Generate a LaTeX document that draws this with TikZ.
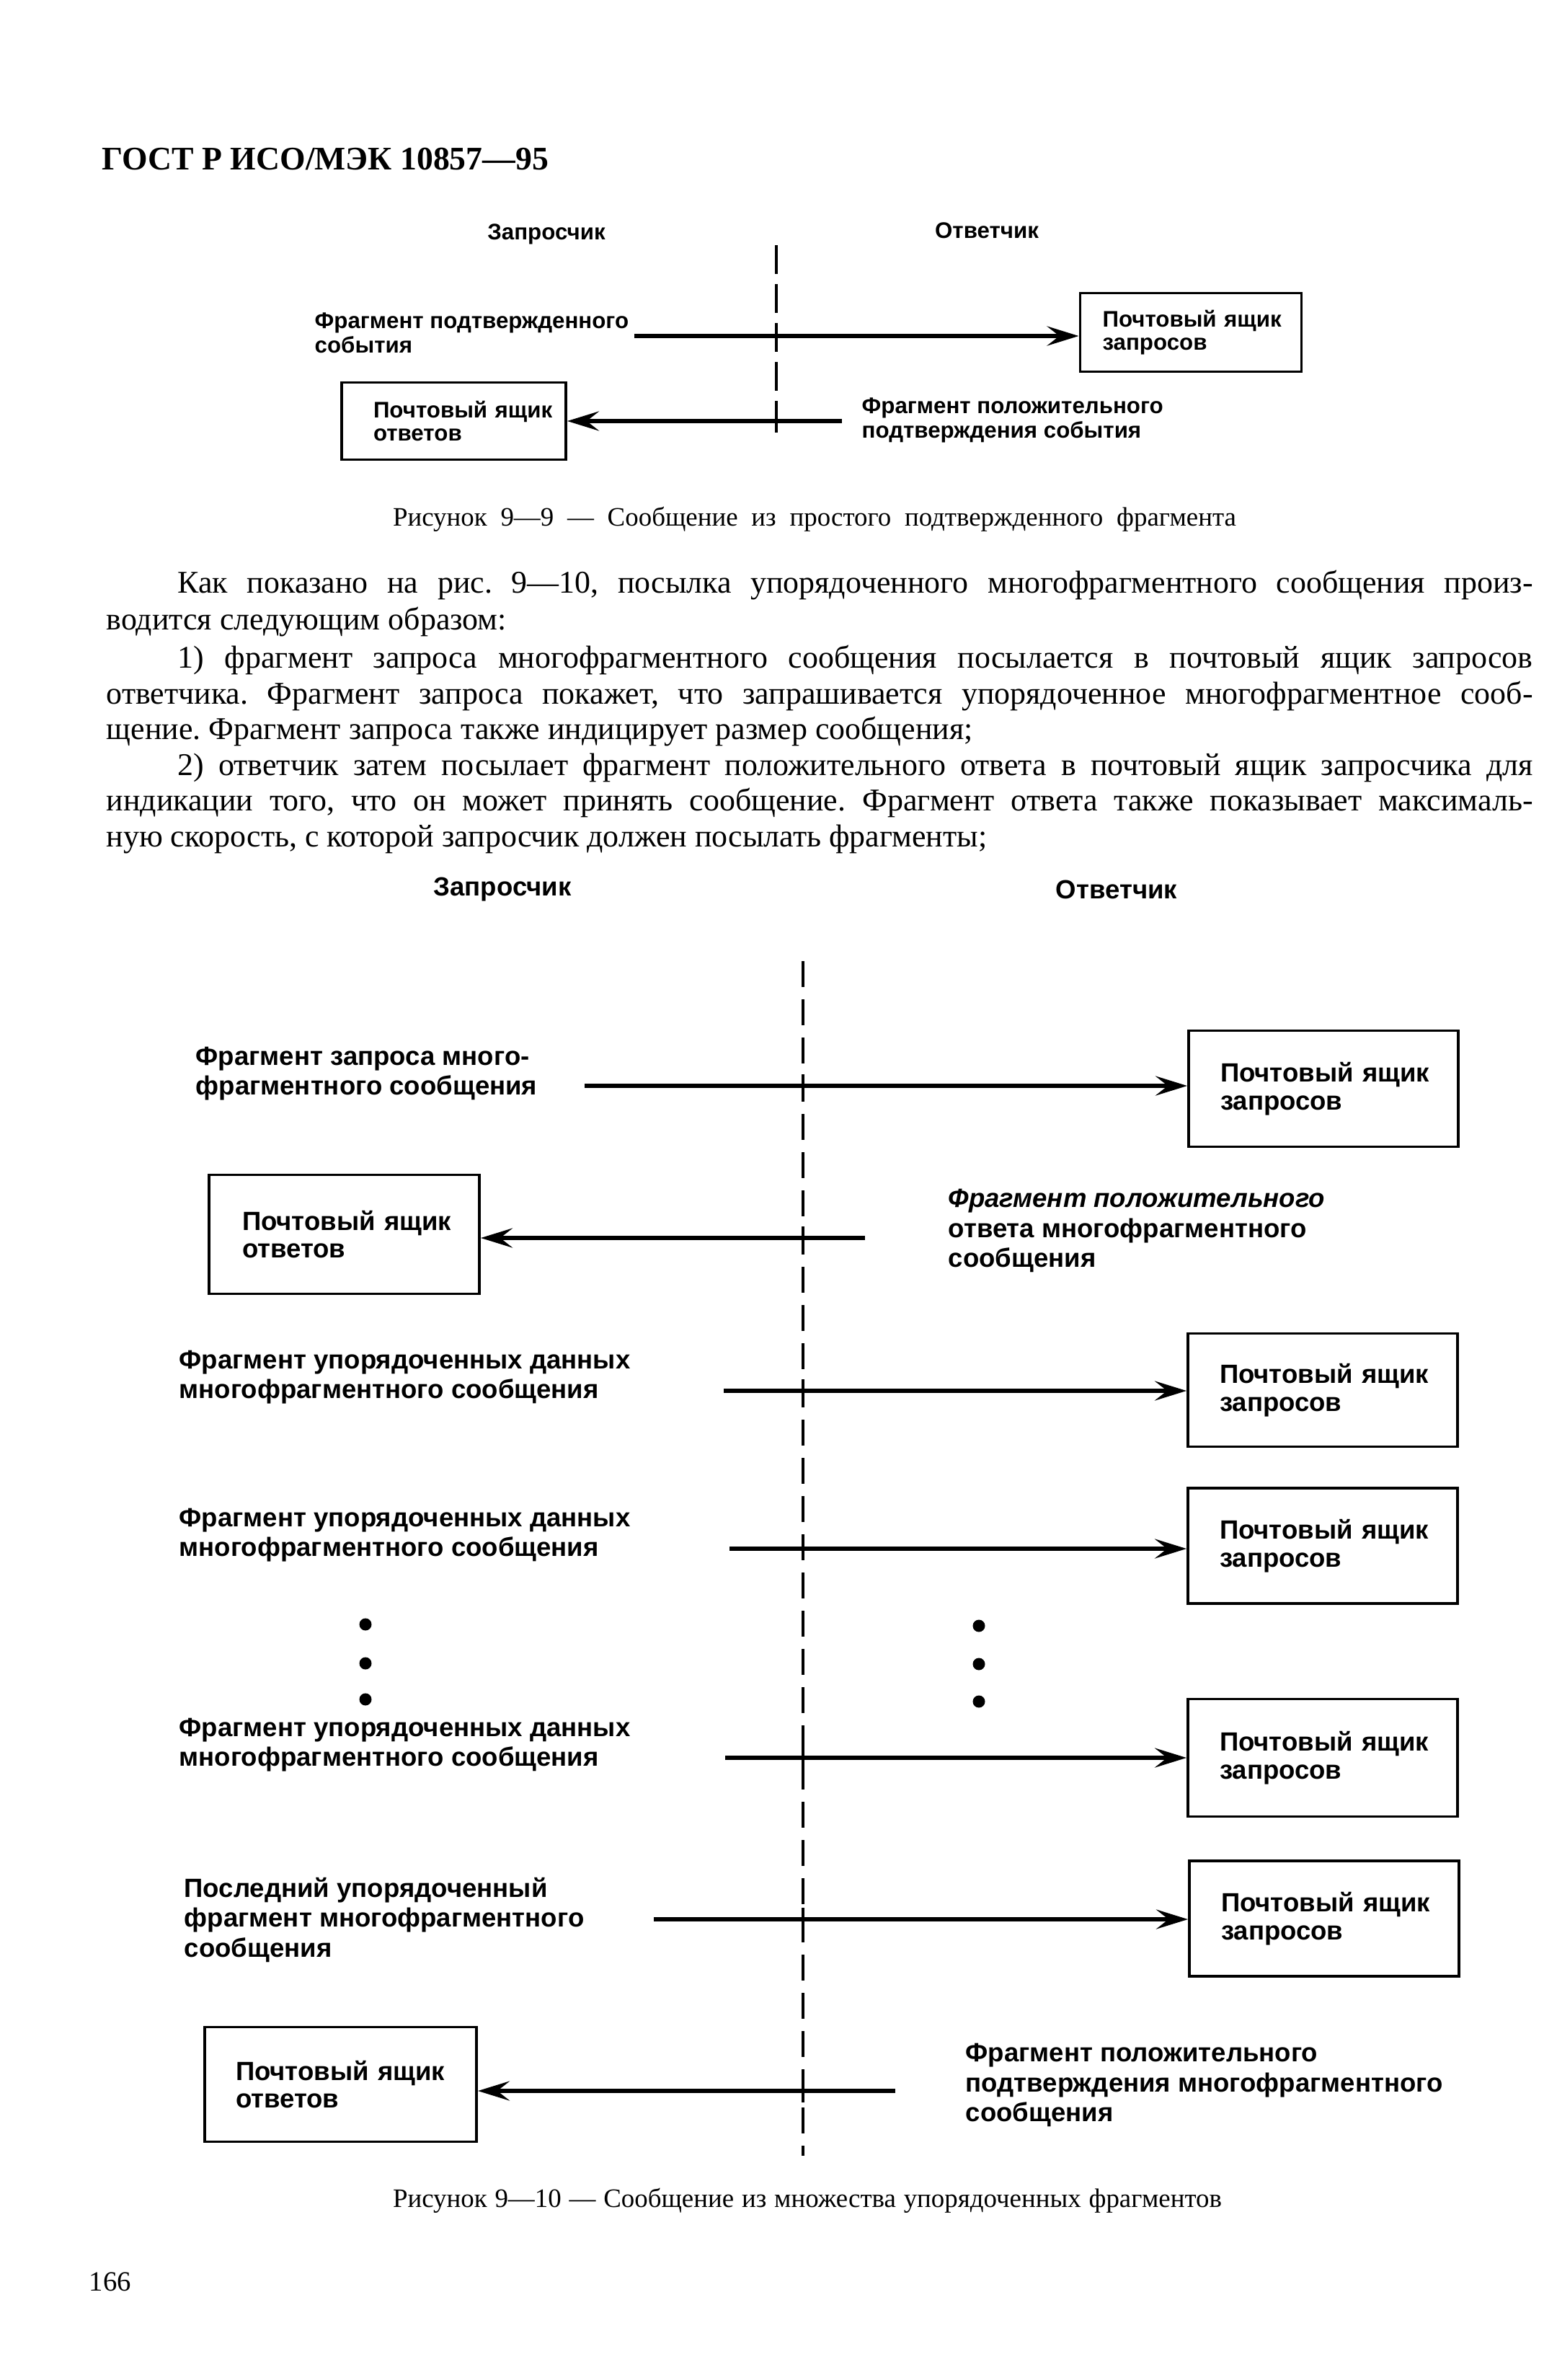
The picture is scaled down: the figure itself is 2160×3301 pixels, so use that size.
\documentclass[tikz,border=0pt]{standalone}
\usepackage{fontspec}
\setmainfont{Liberation Serif}
\newfontfamily\lsans{Liberation Sans}
\usetikzlibrary{arrows.meta}
\frenchspacing
\newcommand{\pyz}{\mbox{Почтовый ящик}\\\mbox{запросов}}
\newcommand{\pyo}{\mbox{Почтовый ящик}\\\mbox{ответов}}
\begin{document}
\begin{tikzpicture}[x=0.1mm,y=-0.1mm,
  body/.style={font=\fontsize{12.5}{15}\selectfont, anchor=west, inner sep=0pt},
  capt/.style={font=\fontsize{10.5}{12}\selectfont, inner sep=0pt},
  lblA/.style={font=\lsans\bfseries\fontsize{8.9}{9.7}\selectfont, align=left, anchor=west, inner sep=0pt},
  lblB/.style={font=\lsans\bfseries\fontsize{10.4}{11.8}\selectfont, align=left, anchor=west, inner sep=0pt},
  headA/.style={font=\lsans\bfseries\fontsize{8.9}{10}\selectfont, inner sep=0pt},
  headB/.style={font=\lsans\bfseries\fontsize{10.4}{12}\selectfont, inner sep=0pt},
  boxA/.style={draw, line width=1.1pt, align=left, font=\lsans\bfseries\fontsize{8.9}{9.2}\selectfont, inner ysep=0pt},
  boxB/.style={draw, line width=1.1pt, align=left, font=\lsans\bfseries\fontsize{10.4}{11}\selectfont, inner ysep=0pt, inner xsep=4.4mm, text width=28.6mm},
  boxR/.style={boxB, minimum width=37.4mm},
  arr/.style={line width=1.7pt, -{Stealth[length=4.4mm, width=2.7mm, inset=1.7mm]}},
  lifeline/.style={line width=1.1pt, dash pattern=on 3.6mm off 1.7mm},
  tick/.style={line width=1.1pt},
  dot/.style={circle, fill, inner sep=0pt, minimum size=1.7mm}
]
\useasboundingbox (0,0) rectangle (2160,3301);

% ---------- header ----------
\node[anchor=west, inner sep=0pt, font=\bfseries\fontsize{13}{15}\selectfont] (title) at (141,221) {ГОСТ Р ИСО/МЭК 10857—95};

% ---------- Figure 9-9 ----------
\node[headA] (h9a) at (758,325) {Запросчик};
\node[headA] (h9b) at (1369,320) {Ответчик};
\coordinate (l9t) at (1077,340);
\coordinate (l9b) at (1077,603);
\draw[line width=1.1pt, dash pattern=on 4mm off 1.4mm] (l9t) -- (l9b);

\node[lblA] (t9a) at (436,462) {Фрагмент подтвержденного\\события};
\node[boxA, minimum width=30.7mm, minimum height=10.9mm, inner xsep=3.1mm, text width=24.5mm] (q9) at (1652,461) {\pyz};
\coordinate (s9a) at (880,466);
\draw[arr] (s9a) -- (s9a -| q9.west);

\node[boxA, minimum width=31.1mm, minimum height=10.7mm, inner xsep=4.4mm, text width=22.3mm] (r9) at (629.5,584) {\pyo};
\coordinate (s9b) at (1168,584);
\draw[arr] (s9b) -- (s9b -| r9.east);
\node[lblA] (t9b) at (1195,583) {Фрагмент положительного\\подтверждения события};

\foreach \yy in {466,584} \draw[tick] (1077,\yy-16) -- (1077,\yy+16);

\node[capt] (c9) at (1130,720) {\makebox[117mm][s]{Рисунок 9—9 — Сообщение из простого подтвержденного фрагмента}};

% ---------- body text ----------
\node[body] (p1) at (246,812) {\strut\makebox[188mm][s]{Как показано на рис. 9—10, посылка упорядоченного многофрагментного сообщения произ-}};
\node[body] (p2) at (147,863) {\strut водится следующим образом:};
\node[body] (p3) at (246,916) {\strut\makebox[188mm][s]{1) фрагмент запроса многофрагментного сообщения посылается в почтовый ящик запросов}};
\node[body] (p4) at (147,966) {\strut\makebox[197.9mm][s]{ответчика. Фрагмент запроса покажет, что запрашивается упорядоченное многофрагментное сооб-}};
\node[body] (p5) at (147,1015) {\strut щение. Фрагмент запроса также индицирует размер сообщения;};
\node[body] (p6) at (246,1065) {\strut\makebox[188mm][s]{2) ответчик затем посылает фрагмент положительного ответа в почтовый ящик запросчика для}};
\node[body] (p7) at (147,1114) {\strut\makebox[197.9mm][s]{индикации того, что он может принять сообщение. Фрагмент ответа также показывает максималь-}};
\node[body] (p8) at (147,1164) {\strut ную скорость, с которой запросчик должен посылать фрагменты;};

% ---------- Figure 9-10 ----------
\node[headB] (h10a) at (697,1234) {Запросчик};
\node[headB] (h10b) at (1549,1234) {Ответчик};
\coordinate (l10t) at (1114,1333);
\coordinate (l10b) at (1114,2990);
\draw[lifeline] (l10t) -- (l10b);

% row 1
\node[lblB] (t1) at (271,1489) {Фрагмент запроса много-\\фрагментного сообщения};
\node[boxR, minimum height=16.1mm] (q1) at (1836,1510) {\pyz};
\coordinate (s1) at (811,1506);
\draw[arr] (s1) -- (s1 -| q1.west);

% row 2
\node[boxB, minimum width=37.5mm, minimum height=16.5mm, inner xsep=4.6mm, text width=28.3mm] (r1) at (477.5,1712) {\pyo};
\coordinate (s2) at (1200,1717);
\draw[arr] (s2) -- (s2 -| r1.east);
\node[lblB] (t2) at (1315,1707) {{\itshape Фрагмент положительного}\\ответа многофрагментного\\сообщения};

% row 3
\node[lblB] (t3) at (248,1910) {Фрагмент упорядоченных данных\\многофрагментного сообщения};
\node[boxR, minimum height=15.7mm] (q2) at (1835,1928) {\pyz};
\coordinate (s3) at (1004,1929);
\draw[arr] (s3) -- (s3 -| q2.west);

% row 4
\node[lblB] (t4) at (248,2129) {Фрагмент упорядоченных данных\\многофрагментного сообщения};
\node[boxR, minimum height=16mm] (q3) at (1835,2144) {\pyz};
\coordinate (s4) at (1012,2148);
\draw[arr] (s4) -- (s4 -| q3.west);

% dots
\node[dot] (d1) at (507,2253) {};
\node[dot] (d2) at (507,2307) {};
\node[dot] (d3) at (507,2357) {};
\node[dot] (d4) at (1358,2255) {};
\node[dot] (d5) at (1358,2308) {};
\node[dot] (d6) at (1358,2360) {};

% row 5
\node[lblB] (t5) at (248,2420) {Фрагмент упорядоченных данных\\многофрагментного сообщения};
\node[boxR, minimum height=16.3mm] (q4) at (1835,2438) {\pyz};
\coordinate (s5) at (1006,2438);
\draw[arr] (s5) -- (s5 -| q4.west);

% row 6
\node[lblB] (t6) at (255,2663) {Последний упорядоченный\\фрагмент многофрагментного\\сообщения};
\node[boxR, minimum height=16mm] (q5) at (1837,2661) {\pyz};
\coordinate (s6) at (907,2662);
\draw[arr] (s6) -- (s6 -| q5.west);

% row 7
\node[boxB, minimum width=37.7mm, minimum height=15.9mm, inner xsep=4.3mm, text width=29.1mm] (r2) at (472.5,2891) {\pyo};
\coordinate (s7) at (1242,2900);
\draw[arr] (s7) -- (s7 -| r2.east);
\node[lblB] (t7) at (1339,2892) {Фрагмент положительного\\подтверждения многофрагментного\\сообщения};

\foreach \yy in {1506,1717,1929,2148,2438,2662,2900} \draw[tick] (1114,\yy-16) -- (1114,\yy+16);

\node[capt] (c10) at (1120,3052) {\makebox[115mm][s]{Рисунок 9—10 — Сообщение из множества упорядоченных фрагментов}};

\node[anchor=west, inner sep=0pt, font=\fontsize{11}{13}\selectfont] (pg) at (123,3165) {166};
\end{tikzpicture}
\end{document}
